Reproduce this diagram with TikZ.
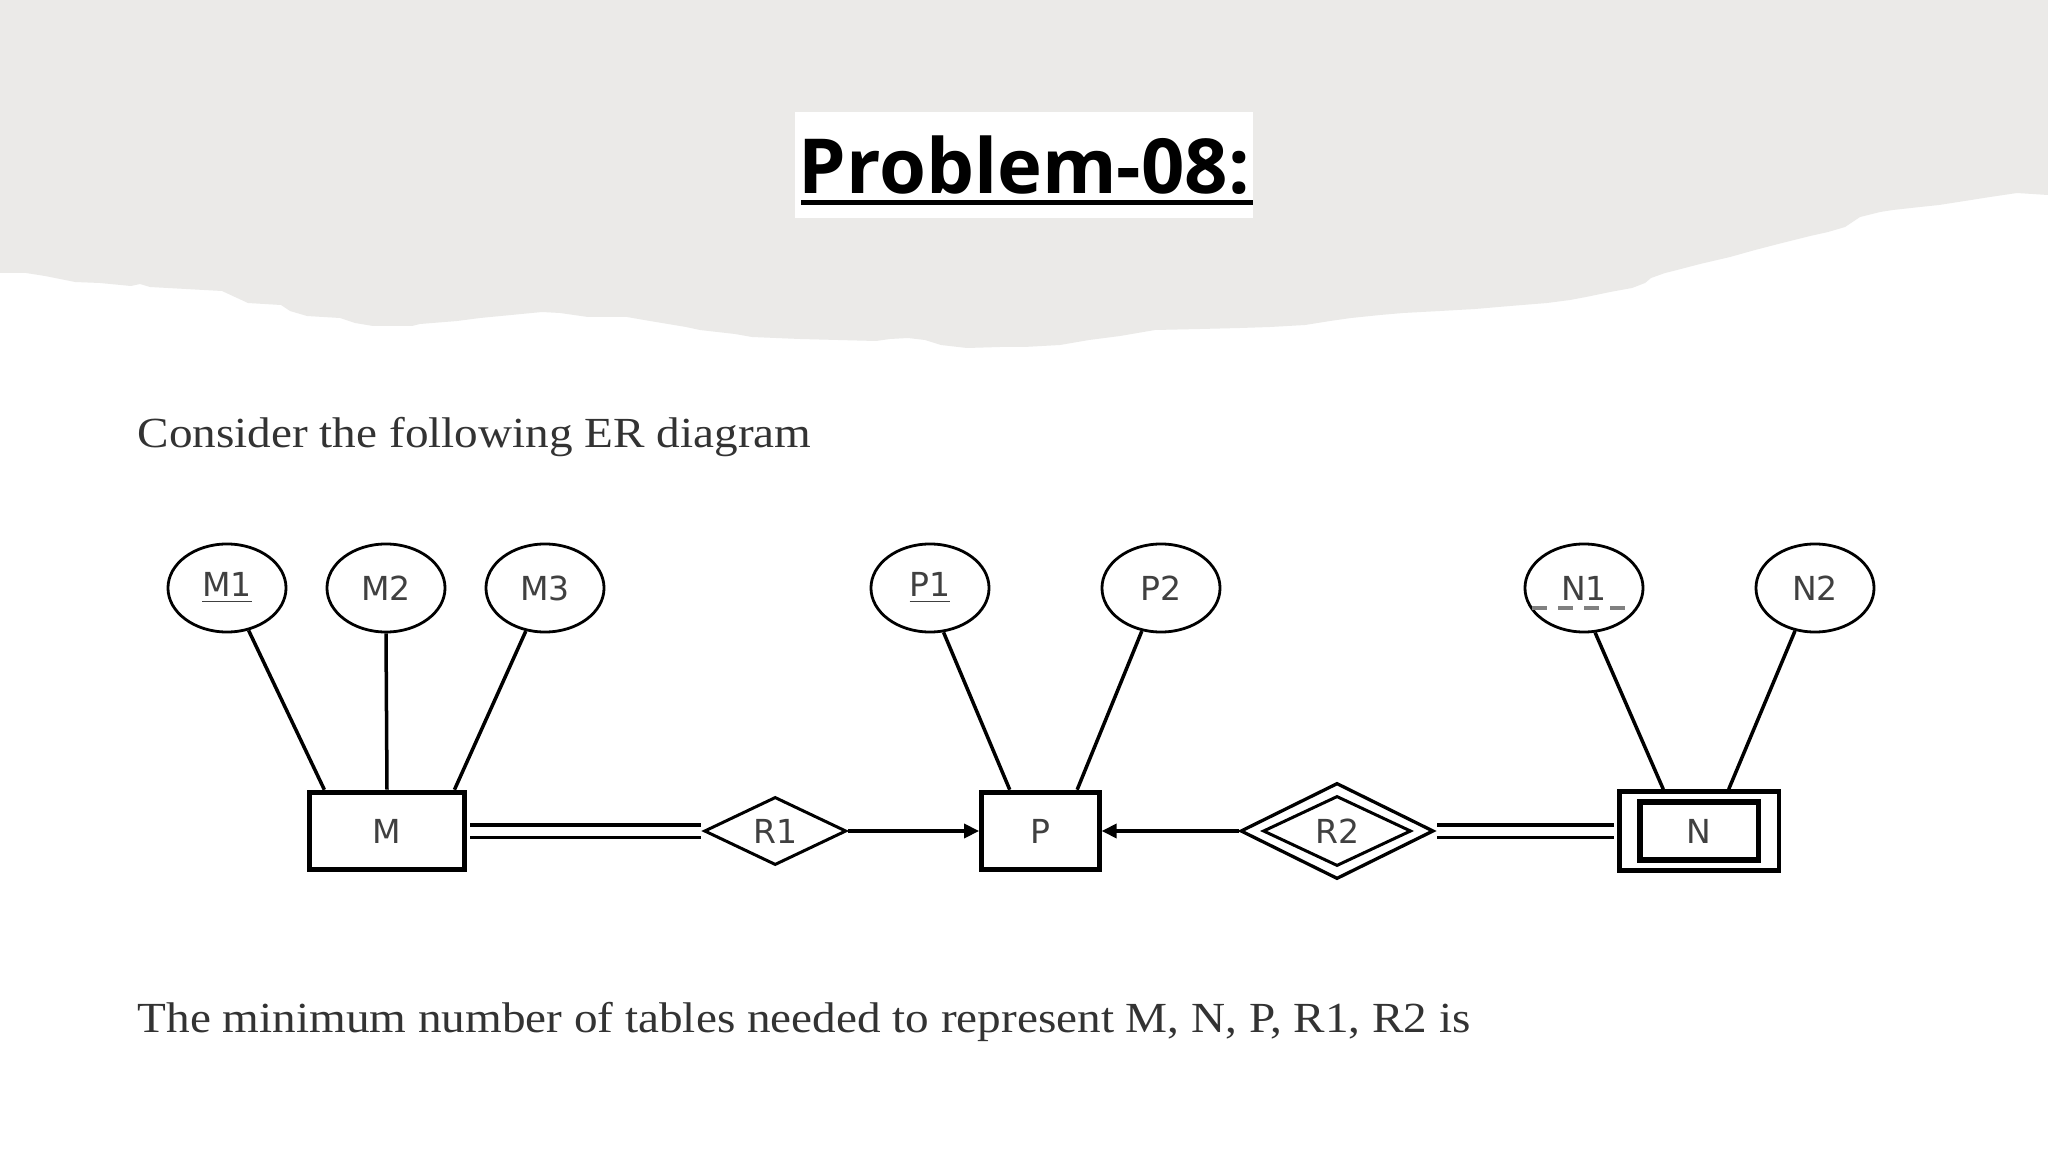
\documentclass[tikz,border=0pt]{standalone}
\usepackage{fontspec}
\newfontfamily\titlefont{Open Sans}
\newfontfamily\labelfont{DejaVu Sans}
\newfontfamily\bodyfont[FakeStretch=1.1]{Liberation Serif}
\usetikzlibrary{arrows.meta, positioning, calc, shapes.geometric}
\definecolor{bandgray}{RGB}{235,234,232}
\definecolor{labelgray}{RGB}{64,64,64}
\definecolor{textgray}{RGB}{51,51,51}

\begin{document}
\begin{tikzpicture}[x=0.01cm, y=-0.01cm, >={Triangle[length=0.15cm, width=0.14cm]}]
		\tikzstyle{attr}=[ellipse, draw, line width=0.028cm, minimum width=1.18cm, minimum height=0.88cm, inner sep=0pt, text=labelgray, font=\labelfont\fontsize{9.4pt}{11pt}\selectfont]
		\tikzstyle{entity}=[rectangle, draw, line width=0.05cm, minimum height=0.775cm, inner sep=0pt, text=labelgray, font=\labelfont\fontsize{9.4pt}{11pt}\selectfont]
		\tikzstyle{rel}=[diamond, draw, line width=0.03cm, inner sep=0pt, text=labelgray, font=\labelfont\fontsize{9.4pt}{11pt}\selectfont]
		\tikzstyle{link}=[line width=0.035cm]
		\tikzstyle{body}=[anchor=base west, inner sep=0pt, text=textgray, font=\bodyfont\fontsize{12.2pt}{14pt}\selectfont]
		
		\useasboundingbox (0,0) rectangle (2048,1152);
		\fill[white] (0,0) rectangle (2048,1152);
		% torn paper band
		\fill[bandgray] (0,0) -- (2048,0) -- (2048,195) -- (2017,193) -- (1990,197) -- (1971,200) -- (1939,205)
		-- (1920,207) -- (1893,210) -- (1880,212) -- (1860,217) -- (1845,227) -- (1828,232) -- (1810,236)
		-- (1782,243) -- (1755,250) -- (1730,257) -- (1700,264) -- (1677,270) -- (1665,273) -- (1651,278)
		-- (1645,283) -- (1632,288) -- (1610,292) -- (1586,297) -- (1570,300) -- (1547,303) -- (1510,306)
		-- (1475,309) -- (1440,311) -- (1403,313) -- (1380,315) -- (1351,318) -- (1330,321) -- (1305,325)
		-- (1270,327) -- (1240,328) -- (1200,329) -- (1155,330) -- (1120,336) -- (1089,340) -- (1060,345)
		-- (1024,347) -- (1000,347) -- (967,348) -- (941,345) -- (925,340) -- (908,338) -- (890,339)
		-- (876,341) -- (800,339) -- (752,337) -- (735,334) -- (700,330) -- (686,327) -- (650,321)
		-- (627,317) -- (588,317) -- (560,313) -- (542,312) -- (480,318) -- (457,321) -- (420,324)
		-- (412,326) -- (373,326) -- (355,323) -- (340,318) -- (307,316) -- (290,311) -- (281,305)
		-- (248,303) -- (235,297) -- (222,291) -- (150,287) -- (140,284) -- (131,286) -- (100,283)
		-- (75,282) -- (65,280) -- (45,276) -- (26,273) -- (0,273) -- cycle;
		
		\node[fill=white, inner sep=0pt, minimum width=4.58cm, minimum height=1.05cm, font=\titlefont\bfseries\fontsize{21.6pt}{26pt}\selectfont] (title) at (1024,165) {Problem-08:};
		\draw[line width=0.05cm] ($(title.base west)+(7,9)$) -- ($(title.base east)+(-1,9)$);
		
		\node[body] (intro) at (137,448) {Consider the following ER diagram};
		\node[body] (question) at (137,1032) {The minimum number of tables needed to represent M, N, P, R1, R2 is};
		
		% entities and relationships
		\node[entity, minimum width=1.555cm] (M) at (387,831) {M};
		\node[rel, minimum width=1.42cm, minimum height=0.67cm] (R1) [right of=M, node distance=3.88cm] {R1};
		\node[entity, minimum width=1.175cm] (P) [right of=R1, node distance=2.65cm] {P};
		\node[rel, line width=0.033cm, minimum width=1.93cm, minimum height=0.96cm] (R2) [right of=P, node distance=2.965cm] {};
		\node[rel, minimum width=1.48cm, minimum height=0.70cm] (R2in) at (R2) {R2};
		\node[entity, line width=0.045cm, minimum width=1.59cm, minimum height=0.79cm] (N) [right of=R2, node distance=3.62cm] {};
		\node[entity, line width=0.055cm, minimum width=1.18cm, minimum height=0.58cm] (Nin) at (N) {N};
		
		% attributes
		\node[attr] (m1) at (227,588) {\underline{M1}};
		\node[attr] (m2) at (386,588) {M2};
		\node[attr] (m3) at (545,588) {M3};
		\node[attr] (p1) at (930,588) {\underline{P1}};
		\node[attr] (p2) at (1161,588) {P2};
		\node[attr] (n1) at (1584,588) {N1};
		\node[attr] (n2) at (1815,588) {N2};
		\draw[gray, line width=0.035cm, dash pattern=on 0.15cm off 0.11cm] ($(n1.center)+(-52,20)$) -- ($(n1.center)+(51,20)$);
		
		\draw[link] (m1.-63) -- ($(M.north west)!0.11!(M.north east)$);
		\draw[link] (m2.south) -- (M.north);
		\draw[link] (m3.-114) -- ($(M.north west)!0.92!(M.north east)$);
		\draw[link] (p1.-73) -- ($(P.north west)!0.25!(P.north east)$);
		\draw[link] (p2.-114) -- ($(P.north west)!0.8!(P.north east)$);
		\draw[link] (n1.-76) -- ($(N.north west)!0.28!(N.north east)$);
		\draw[link] (n2.-115) -- ($(N.north west)!0.68!(N.north east)$);
		
		\draw[link, double, double distance=0.09cm, shorten <=0.03cm, shorten >=0.02cm] (M.east) -- (R1.west);
		\draw[link, ->] (R1.east) -- (P.west);
		\draw[link, ->] (R2.west) -- (P.east);
		\draw[link, double, double distance=0.09cm, shorten <=0.02cm, shorten >=0.03cm] (R2.east) -- (N.west);
	\end{tikzpicture}
\end{document}
